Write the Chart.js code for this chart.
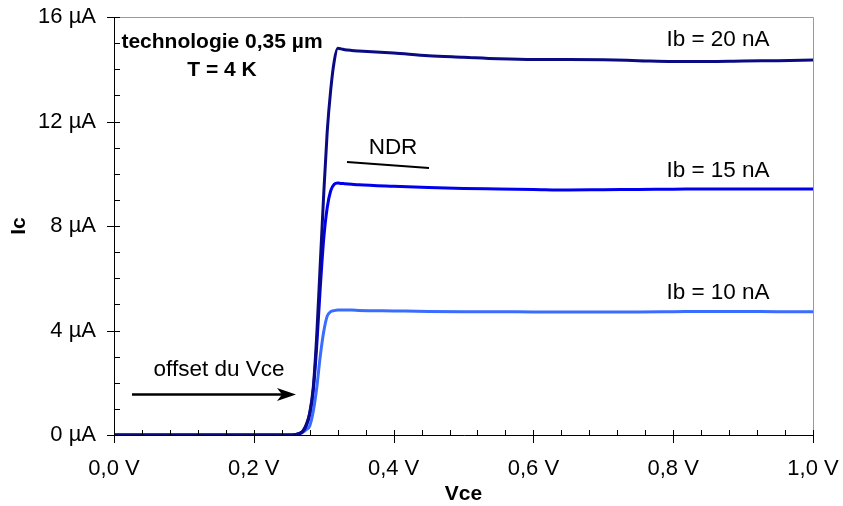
<!DOCTYPE html>
<html>
<head>
<meta charset="utf-8">
<script src="https://cdn.jsdelivr.net/npm/chart.js@4"></script>
<style>
  html, body { margin: 0; padding: 0; background: #ffffff; }
  #wrap { width: 843px; height: 506px; position: relative; }
</style>
</head>
<body>
<div id="wrap"><canvas id="c" width="843" height="506"></canvas></div>
<script>
// ---- data (Vce in V, Ic in µA) ----
const vce = [0, 0.1, 0.2, 0.25, 0.26, 0.265, 0.27, 0.275, 0.28, 0.285, 0.29, 0.295, 0.3, 0.305, 0.31, 0.315, 0.32, 0.325, 0.33, 0.34, 0.35, 0.4, 0.45, 0.5, 0.55, 0.6, 0.65, 0.7, 0.75, 0.8, 0.85, 0.9, 0.95, 1.0];
const ic20 = [0, 0, 0, 0, 0.02, 0.06, 0.15, 0.4, 0.85, 1.8, 3.8, 6.5, 9.2, 11.6, 13.2, 14.3, 14.8, 14.78, 14.75, 14.72, 14.7, 14.62, 14.52, 14.46, 14.4, 14.37, 14.37, 14.36, 14.33, 14.3, 14.3, 14.32, 14.33, 14.35];
const ic15 = [0, 0, 0, 0, 0.02, 0.05, 0.13, 0.35, 0.8, 1.7, 3.4, 5.6, 7.5, 8.7, 9.35, 9.6, 9.65, 9.63, 9.62, 9.6, 9.58, 9.52, 9.47, 9.44, 9.42, 9.4, 9.38, 9.39, 9.4, 9.41, 9.42, 9.42, 9.42, 9.42];
const ic10 = [0, 0, 0, 0, 0.01, 0.04, 0.1, 0.2, 0.35, 0.9, 1.8, 3.0, 3.95, 4.55, 4.72, 4.76, 4.78, 4.78, 4.78, 4.78, 4.77, 4.75, 4.73, 4.72, 4.72, 4.71, 4.71, 4.71, 4.71, 4.72, 4.73, 4.73, 4.72, 4.72];
const seriesLabels = ['Ib = 20 nA', 'Ib = 15 nA', 'Ib = 10 nA'];
const xTickValues = [0, 0.2, 0.4, 0.6, 0.8, 1.0];
const xTickLabels = ['0,0 V', '0,2 V', '0,4 V', '0,6 V', '0,8 V', '1,0 V'];
const yTickValues = [0, 4, 8, 12, 16];
const yTickLabels = ['0 µA', '4 µA', '8 µA', '12 µA', '16 µA'];
const xMinorStep = 0.04;
const yMinorStep = 1;

const FONT = 'Arial, "Liberation Sans", sans-serif';

function pts(ys) { return vce.map((v, i) => ({ x: v, y: ys[i] })); }

const decorPlugin = {
  id: 'decor',
  afterDraw(chart) {
    const ctx = chart.ctx;
    const xs = chart.scales.x, ys = chart.scales.y;
    const a = chart.chartArea;
    ctx.save();
    // gray top/right frame
    ctx.strokeStyle = '#999999';
    ctx.lineWidth = 1;
    ctx.beginPath();
    ctx.moveTo(a.left, a.top + 0.5); ctx.lineTo(a.right + 0.5, a.top + 0.5);
    ctx.lineTo(a.right + 0.5, a.bottom);
    ctx.stroke();
    // black axes
    ctx.strokeStyle = '#000000';
    ctx.beginPath();
    ctx.moveTo(a.left + 0.5, a.top); ctx.lineTo(a.left + 0.5, a.bottom + 0.5);
    ctx.lineTo(a.right + 1, a.bottom + 0.5);
    ctx.stroke();
    // x ticks
    ctx.beginPath();
    for (let v = 0; v <= 1.0001; v += xMinorStep) {
      const px = Math.round(xs.getPixelForValue(v)) + 0.5;
      ctx.moveTo(px, a.bottom - 5); ctx.lineTo(px, a.bottom);
    }
    xTickValues.forEach(v => {
      const px = Math.round(xs.getPixelForValue(v)) + 0.5;
      ctx.moveTo(px, a.bottom); ctx.lineTo(px, a.bottom + 8);
    });
    // y ticks
    for (let v = 0; v <= 16.0001; v += yMinorStep) {
      const py = Math.round(ys.getPixelForValue(v)) + 0.5;
      ctx.moveTo(a.left, py); ctx.lineTo(a.left + 6, py);
    }
    yTickValues.forEach(v => {
      const py = Math.round(ys.getPixelForValue(v)) + 0.5;
      ctx.moveTo(a.left - 7, py); ctx.lineTo(a.left, py);
    });
    ctx.stroke();

    // axis titles
    ctx.fillStyle = '#000';
    ctx.font = 'bold 21px ' + FONT;
    ctx.textAlign = 'center';
    ctx.textBaseline = 'middle';
    ctx.fillText('Vce', (a.left + a.right) / 2, 494);
    ctx.save();
    ctx.translate(19, (a.top + a.bottom) / 2);
    ctx.rotate(-Math.PI / 2);
    ctx.fillText('Ic', 0, 0);
    ctx.restore();

    // annotation box text
    ctx.font = 'bold 21px ' + FONT;
    ctx.fillText('technologie 0,35 µm', 222, 42);
    ctx.fillText('T = 4 K', 222, 70);

    // series labels
    ctx.font = '22.5px ' + FONT;
    ctx.fillText(seriesLabels[0], 718, 40);
    ctx.fillText(seriesLabels[1], 718, 171);
    ctx.fillText(seriesLabels[2], 718, 293);

    // NDR
    ctx.fillText('NDR', 393, 148);
    ctx.lineWidth = 2;
    ctx.beginPath();
    ctx.moveTo(347, 162); ctx.lineTo(429, 168);
    ctx.stroke();

    // offset du Vce
    ctx.fillText('offset du Vce', 219, 370);
    ctx.lineWidth = 2.5;
    ctx.beginPath();
    ctx.moveTo(132, 394.5); ctx.lineTo(284, 394.5);
    ctx.stroke();
    ctx.beginPath();
    ctx.moveTo(296, 394.5);
    ctx.lineTo(277, 388);
    ctx.lineTo(282, 394.5);
    ctx.lineTo(277, 401);
    ctx.closePath();
    ctx.fill();
    ctx.restore();
  }
};

new Chart(document.getElementById('c'), {
  type: 'line',
  data: {
    datasets: [
      { label: seriesLabels[0], data: pts(ic20), borderColor: '#0a0a82', borderWidth: 3 },
      { label: seriesLabels[1], data: pts(ic15), borderColor: '#0000ee', borderWidth: 3 },
      { label: seriesLabels[2], data: pts(ic10), borderColor: '#3a6cff', borderWidth: 3 }
    ]
  },
  options: {
    responsive: false,
    animation: false,
    elements: {
      point: { radius: 0 },
      line: { cubicInterpolationMode: 'monotone', borderCapStyle: 'round', borderJoinStyle: 'round' }
    },
    layout: { padding: { top: 17, right: 30, left: 0, bottom: 0 } },
    plugins: { legend: { display: false }, tooltip: { enabled: false } },
    scales: {
      x: {
        type: 'linear', min: 0, max: 1,
        afterFit(s) { s.height = 71; s.paddingLeft = 0; s.paddingRight = 0; },
        afterBuildTicks(s) { s.ticks = xTickValues.map(v => ({ value: v })); },
        grid: { display: false, drawTicks: false },
        border: { display: false },
        ticks: {
          padding: 21, color: '#000', font: { family: FONT, size: 22 },
          maxRotation: 0, autoSkip: false,
          callback: (v) => { const i = xTickValues.findIndex(t => Math.abs(t - v) < 1e-6); return i >= 0 ? xTickLabels[i] : ''; }
        }
      },
      y: {
        type: 'linear', min: 0, max: 16,
        afterFit(s) { s.width = 114; s.paddingTop = 0; s.paddingBottom = 0; },
        afterBuildTicks(s) { s.ticks = yTickValues.map(v => ({ value: v })); },
        grid: { display: false, drawTicks: false },
        border: { display: false },
        ticks: {
          padding: 18, color: '#000', font: { family: FONT, size: 22 },
          callback: (v) => { const i = yTickValues.indexOf(v); return i >= 0 ? yTickLabels[i] : ''; }
        }
      }
    }
  },
  plugins: [decorPlugin]
});
</script>
</body>
</html>
